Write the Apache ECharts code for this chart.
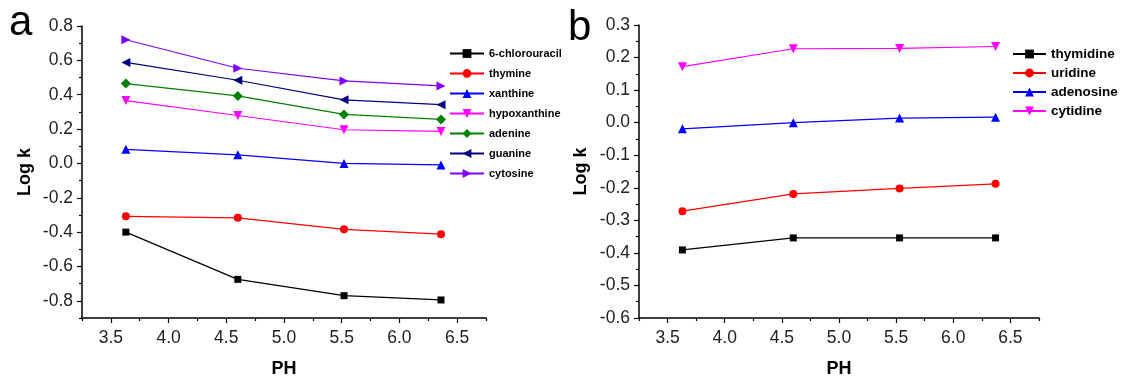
<!DOCTYPE html>
<html><head><meta charset="utf-8">
<script src="https://cdn.jsdelivr.net/npm/echarts@6/dist/echarts.min.js"></script>
<style>html,body{margin:0;padding:0;background:#fff}#c{width:1121px;height:383px}</style>
</head><body><div id="c"></div>
<script>
// ---- data ----
const phA = [3.63, 4.60, 5.52, 6.36];
const namesA = ['6-chlorouracil','thymine','xanthine','hypoxanthine','adenine','guanine','cytosine'];
const chlorouracil = [-0.40, -0.675, -0.77, -0.795];
const thymine = [-0.308, -0.317, -0.384, -0.412];
const xanthine = [0.082, 0.05, 0.0, -0.009];
const hypoxanthine = [0.366, 0.279, 0.196, 0.186];
const adenine = [0.465, 0.393, 0.285, 0.256];
const guanine = [0.588, 0.484, 0.370, 0.342];
const cytosine = [0.720, 0.554, 0.480, 0.451];

const phB = [3.63, 4.60, 5.53, 6.37];
const namesB = ['thymidine','uridine','adenosine','cytidine'];
const thymidine = [-0.391, -0.354, -0.354, -0.354];
const uridine = [-0.272, -0.219, -0.202, -0.188];
const adenosine = [-0.019, 0.0, 0.014, 0.017];
const cytidine = [0.172, 0.227, 0.228, 0.234];

const xTicks = [3.5, 4.0, 4.5, 5.0, 5.5, 6.0, 6.5];
const xMinor = [3.25, 3.75, 4.25, 4.75, 5.25, 5.75, 6.25, 6.75];
const yTicksA = [-0.8, -0.6, -0.4, -0.2, 0.0, 0.2, 0.4, 0.6, 0.8];
const yMinorA = [-0.9, -0.7, -0.5, -0.3, -0.1, 0.1, 0.3, 0.5, 0.7];
const yTicksB = [-0.6, -0.5, -0.4, -0.3, -0.2, -0.1, 0.0, 0.1, 0.2, 0.3];
const yMinorB = [-0.55, -0.45, -0.35, -0.25, -0.15, -0.05, 0.05, 0.15, 0.25];

// ---- styling ----
const FONT = 'Liberation Sans, Arial, sans-serif';
const colorsA = ['#000000','#ff0000','#0000ff','#ff00ff','#008000','#000080','#8000ff'];
const symbolsA = [['rect',0],['circle',0],['triangle',0],['triangle',180],['diamond',0],['triangle',90],['triangle',-90]];
const colorsB = ['#000000','#ff0000','#0000ff','#ff00ff'];
const symbolsB = [['rect',0],['circle',0],['triangle',0],['triangle',180]];

function xAxes(grid, fs) {
  return [{
    type:'value', gridIndex:grid, position:'bottom', min:3.25, max:6.75, splitLine:{show:false},
    axisLine:{show:true, onZero:false, lineStyle:{color:'#000', width:1.5}},
    axisTick:{show:true, length:5, customValues:xTicks, lineStyle:{color:'#000', width:1.2}},
    axisLabel:{customValues:xTicks, margin:11, color:'#222', fontSize:fs, fontFamily:FONT, formatter:v=>v.toFixed(1)},
    name:'PH', nameLocation:'middle', nameGap:42,
    nameTextStyle:{fontSize:18, fontWeight:'bold', color:'#000', fontFamily:FONT}
  },{
    type:'value', gridIndex:grid, position:'bottom', min:3.25, max:6.75, splitLine:{show:false},
    axisLine:{show:false, onZero:false},
    axisTick:{show:true, length:3, customValues:xMinor, lineStyle:{color:'#000', width:1.2}},
    axisLabel:{show:false}
  }];
}
function yAxes(grid, mn, mx, ticks, minor, fs, gap) {
  return [{
    type:'value', gridIndex:grid, position:'left', min:mn, max:mx, splitLine:{show:false},
    axisLine:{show:true, onZero:false, lineStyle:{color:'#000', width:1.5}},
    axisTick:{show:true, length:5, customValues:ticks, lineStyle:{color:'#000', width:1.2}},
    axisLabel:{customValues:ticks, margin:9, color:'#222', fontSize:fs, fontFamily:FONT, formatter:v=>v.toFixed(1)},
    name:'Log k', nameLocation:'middle', nameGap:gap,
    nameTextStyle:{fontSize:18, fontWeight:'bold', color:'#000', fontFamily:FONT}
  },{
    type:'value', gridIndex:grid, position:'left', min:mn, max:mx, splitLine:{show:false},
    axisLine:{show:false, onZero:false},
    axisTick:{show:true, length:3, customValues:minor, lineStyle:{color:'#000', width:1.2}},
    axisLabel:{show:false}
  }];
}
function mk(name, xs, ys, color, sym, xi, yi) {
  return {
    name, type:'line', xAxisIndex:xi, yAxisIndex:yi,
    data: xs.map((x,i)=>[x, ys[i]]),
    symbol: sym[0], symbolRotate: sym[1],
    symbolSize: sym[0]==='rect'?7:(sym[0]==='circle'?8:(sym[0]==='diamond'?10:9)),
    showAllSymbol:true,
    lineStyle:{color, width:1.2}, itemStyle:{color}, color,
    animation:false
  };
}
const dataA = [chlorouracil, thymine, xanthine, hypoxanthine, adenine, guanine, cytosine];
const dataB = [thymidine, uridine, adenosine, cytidine];

const series = [];
namesA.forEach((n,i)=>series.push(mk(n, phA, dataA[i], colorsA[i], symbolsA[i], 0, 0)));
namesB.forEach((n,i)=>series.push(mk(n, phB, dataB[i], colorsB[i], symbolsB[i], 2, 2)));

const chart = echarts.init(document.getElementById('c'), null, {renderer:'canvas'});
chart.setOption({
  animation:false,
  backgroundColor:'#fff',
  title:[
    {text:'a', left:9, top:2, padding:0, textStyle:{fontSize:42, fontWeight:'normal', color:'#000', fontFamily:FONT}},
    {text:'b', left:568, top:7, padding:0, textStyle:{fontSize:42, fontWeight:'normal', color:'#000', fontFamily:FONT}}
  ],
  grid:[
    {left:82, top:26, right:635, bottom:57},
    {left:639, top:25, right:82, bottom:60}
  ],
  xAxis:[...xAxes(0,17.5), ...xAxes(1,17.5)],
  yAxis:[...yAxes(0,-0.9,0.8,yTicksA,yMinorA,17.5,48), ...yAxes(1,-0.6,0.3,yTicksB,yMinorB,17.5,49)],
  legend:[
    {data:namesA, orient:'vertical', left:449, top:48, itemWidth:34, itemHeight:11, itemGap:9, padding:0,
     textStyle:{fontSize:11, fontWeight:'bold', color:'#000', fontFamily:FONT}},
    {data:namesB, orient:'vertical', left:1012, top:47, itemWidth:33, itemHeight:11, itemGap:5, padding:0,
     textStyle:{fontSize:13.5, fontWeight:'bold', color:'#000', fontFamily:FONT}}
  ],
  series
});
</script></body></html>
